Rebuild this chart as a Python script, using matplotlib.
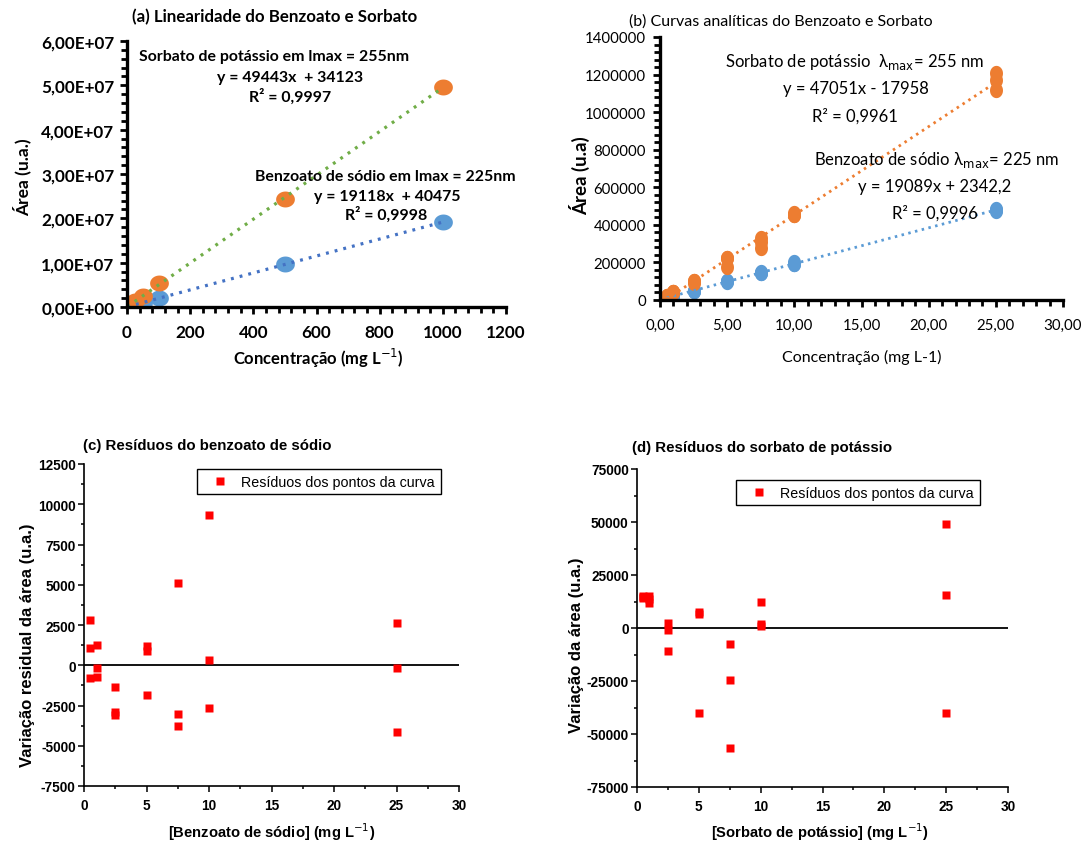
import numpy as np
import matplotlib
matplotlib.use("Agg")
import matplotlib.pyplot as plt
from matplotlib.path import Path
from matplotlib.ticker import MultipleLocator, FuncFormatter

# ---------------- data ----------------
# (a) linearity range (mg/L) and peak areas
conc_lin = [1, 10, 25, 50, 100, 500, 1000]
area_sorb_lin = [0.05e6, 0.5e6, 1.3e6, 2.5e6, 5.4e6, 2.43e7, 4.96e7]
area_benz_lin = [0.03e6, 0.2e6, 0.5e6, 1.0e6, 2.0e6, 0.97e7, 1.91e7]
fit_sorb_lin = (49443, 34123)
fit_benz_lin = (19118, 40475)

# (b) analytical curves, triplicate injections
conc_cal = [0.5, 0.5, 0.5, 1, 1, 1, 2.5, 2.5, 2.5, 5, 5, 5,
            7.5, 7.5, 7.5, 10, 10, 10, 25, 25, 25]
area_sorb_cal = [20500, 20000, 19500, 44000, 42500, 41000,
                 102000, 98500, 88500, 224500, 223500, 177500,
                 327500, 310500, 278500, 465000, 454500, 453500,
                 1207000, 1173500, 1118000]
area_benz_cal = [14700, 13000, 11100, 22700, 21300, 20700,
                 48700, 47200, 47000, 99000, 98700, 95900,
                 150600, 142500, 141700, 202600, 193600, 190600,
                 482200, 479400, 475400]
fit_sorb_cal = (47051, -17958)
fit_benz_cal = (19089, 2342.2)

# (c) residuals, sodium benzoate
res_benz = [2800, 1100, -800, 1250, -150, -700,
            -1350, -2900, -3100, 1200, 900, -1850,
            5100, -3000, -3800, 9350, 350, -2650,
            2600, -150, -4150]
# (d) residuals, potassium sorbate
res_sorb = [15000, 14500, 14000, 15000, 13500, 12000,
            2500, -1000, -11000, 7500, 6500, -40000,
            -7500, -24500, -56500, 12500, 2000, 1000,
            49000, 15500, -40000]

# ---------------- styling ----------------
W, H = 1090, 845
fig = plt.figure(figsize=(W / 100, H / 100), dpi=100)

FA = ["Lato", "DejaVu Sans"]
FN = ["Liberation Sans", "DejaVu Sans"]
ORANGE = "#ED7D31"
BLUE = "#5B9BD5"
GREEN = "#70AD47"
DBLUE = "#4472C4"
RED = "#FF0000"


def box(l, t, r, b):
    return [l / W, 1 - b / H, (r - l) / W, (b - t) / H]


def at(x, y):
    return x / W, 1 - y / H


def ellipse(sx, sy):
    t = np.linspace(0, 2 * np.pi, 64)
    return Path(np.column_stack([sx * np.cos(t), sy * np.sin(t)]), closed=True)


def fitline(ax, x, coef, **kw):
    xs = np.array([min(x), max(x)])
    ax.plot(xs, coef[0] * xs + coef[1], **kw)


def excel_axes(ax):
    for s in ("top", "right"):
        ax.spines[s].set_visible(False)
    for s in ("left", "bottom"):
        ax.spines[s].set_linewidth(2.4)
        ax.spines[s].set_color("black")
    ax.tick_params(which="major", direction="out", length=5, width=2, color="black")
    ax.tick_params(which="minor", direction="out", length=4, width=2, color="black")


def origin_axes(ax):
    for s in ("top", "right"):
        ax.spines[s].set_visible(False)
    for s in ("left", "bottom"):
        ax.spines[s].set_linewidth(1.2)
    ax.tick_params(which="major", direction="out", length=4, width=1.1, pad=2)
    ax.tick_params(which="minor", direction="out", length=2.5, width=1.1)


# ---------------- (a) ----------------
axa = fig.add_axes(box(127, 42, 506, 308))
excel_axes(axa)
mk_a = ellipse(1.0, 0.85)
axa.plot(conc_lin, area_benz_lin, ls="none", marker=mk_a, ms=13.5, color=BLUE, mec="none")
axa.plot(conc_lin, area_sorb_lin, ls="none", marker=mk_a, ms=13.5, color=ORANGE, mec="none")
fitline(axa, conc_lin, fit_benz_lin, color=DBLUE, lw=2.3, ls=(0, (0.9, 1.9)))
fitline(axa, conc_lin, fit_sorb_lin, color=GREEN, lw=2.3, ls=(0, (0.9, 1.9)))
axa.set_xlim(0, 1200)
axa.set_ylim(0, 6e7)
axa.xaxis.set_major_locator(MultipleLocator(200))
axa.xaxis.set_minor_locator(MultipleLocator(40))
axa.yaxis.set_major_locator(MultipleLocator(1e7))
axa.yaxis.set_minor_locator(MultipleLocator(2e6))
axa.yaxis.set_major_formatter(FuncFormatter(lambda v, p: f"{v:.2E}".replace(".", ",")))
axa.tick_params(axis="x", pad=7)
axa.tick_params(axis="y", pad=4)
plt.setp(axa.get_xticklabels() + axa.get_yticklabels(), family=FA, fontweight="bold",
         fontsize=12.3)

fig.text(*at(275, 17), "(a) Linearidade do Benzoato e Sorbato", ha="center", va="center",
         family=FA, fontweight="bold", fontsize=12.2)
fig.text(*at(22, 177), "Área (u.a.)", rotation=90, ha="center", va="center",
         family=FA, fontweight="bold", fontsize=12.5)
fig.text(*at(318, 358), "Concentração (mg L$^{-1}$)", ha="center", va="center",
         family=FA, fontweight="bold", fontsize=12)
for txt, (x, y) in [("Sorbato de potássio em lmax = 255nm", (274, 57)),
                    ("y = 49443x  + 34123", (290, 78)),
                    ("R² = 0,9997", (290, 97)),
                    ("Benzoato de sódio em lmax = 225nm", (385, 177)),
                    ("y = 19118x  + 40475", (387, 197)),
                    ("R² = 0,9998", (386, 215))]:
    fig.text(*at(x, y), txt, ha="center", va="center", family=FA,
             fontweight="bold", fontsize=11.4)

# ---------------- (b) ----------------
axb = fig.add_axes(box(660, 38, 1063, 301))
excel_axes(axb)
mk_b = ellipse(0.85, 1.0)
axb.plot(conc_cal, area_benz_cal, ls="none", marker=mk_b, ms=11, color=BLUE, mec="none")
axb.plot(conc_cal, area_sorb_cal, ls="none", marker=mk_b, ms=11, color=ORANGE, mec="none")
fitline(axb, conc_cal, fit_benz_cal, color=BLUE, lw=2.0, ls=(0, (0.9, 1.6)))
fitline(axb, conc_cal, fit_sorb_cal, color=ORANGE, lw=2.0, ls=(0, (0.9, 1.6)))
axb.set_xlim(0, 30)
axb.set_ylim(0, 1400000)
axb.xaxis.set_major_locator(MultipleLocator(5))
axb.xaxis.set_minor_locator(MultipleLocator(1))
axb.yaxis.set_major_locator(MultipleLocator(200000))
axb.yaxis.set_minor_locator(MultipleLocator(40000))
axb.xaxis.set_major_formatter(FuncFormatter(lambda v, p: f"{v:.2f}".replace(".", ",")))
axb.yaxis.set_major_formatter(FuncFormatter(lambda v, p: f"{v:.0f}"))
axb.tick_params(axis="x", pad=8)
axb.tick_params(axis="y", pad=5)
plt.setp(axb.get_xticklabels() + axb.get_yticklabels(), family=FA, fontsize=10.8)

fig.text(*at(781, 22), "(b) Curvas analíticas do Benzoato e Sorbato", ha="center",
         va="center", family=FA, fontsize=11.5)
fig.text(*at(580, 176), "Área (u.a)", rotation=90, ha="center", va="center",
         family=FA, fontweight="bold", fontsize=13.5)
fig.text(*at(862, 357), "Concentração (mg L-1)", ha="center", va="center",
         family=FA, fontsize=11.5)
for txt, (x, y) in [("Sorbato de potássio  λ$_{\\mathrm{max}}$= 255 nm", (855, 62)),
                    ("y = 47051x - 17958", (856, 89)),
                    ("R² = 0,9961", (855, 116)),
                    ("Benzoato de sódio λ$_{\\mathrm{max}}$= 225 nm", (937, 160)),
                    ("y = 19089x + 2342,2", (935, 187)),
                    ("R² = 0,9996", (935, 213))]:
    fig.text(*at(x, y), txt, ha="center", va="center", family=FA, fontsize=12)


# ---------------- (c) and (d) ----------------
def residual_panel(rect, res, ylim, ymaj, title, title_xy, ylabel, ylabel_xy,
                   xlabel, xlabel_xy, legend_xy):
    ax = fig.add_axes(rect)
    origin_axes(ax)
    ax.axhline(0, color="black", lw=1.3, zorder=1)
    ax.plot(conc_cal, res, ls="none", marker="s", ms=5.5, color=RED, mec="none",
            zorder=3, label="Resíduos dos pontos da curva")
    ax.set_xlim(0, 30)
    ax.set_ylim(*ylim)
    ax.xaxis.set_major_locator(MultipleLocator(5))
    ax.xaxis.set_minor_locator(MultipleLocator(2.5))
    ax.yaxis.set_major_locator(MultipleLocator(ymaj))
    ax.yaxis.set_minor_locator(MultipleLocator(ymaj / 2))
    ax.yaxis.set_major_formatter(FuncFormatter(lambda v, p: f"{v:.0f}"))
    ax.tick_params(axis="x", pad=5)
    plt.setp(ax.get_xticklabels() + ax.get_yticklabels(), family=FN,
             fontweight="bold", fontsize=9.8)
    leg = ax.legend(loc="upper left", bbox_to_anchor=at(*legend_xy),
                    bbox_transform=fig.transFigure, frameon=True, fancybox=False,
                    edgecolor="black", framealpha=1, handlelength=2.4,
                    handletextpad=0.3, borderpad=0.4, borderaxespad=0,
                    prop={"family": FN, "size": 10.3})
    leg.get_frame().set_linewidth(1.0)
    fig.text(*at(*title_xy), title, ha="left", va="center", family=FN,
             fontweight="bold", fontsize=10.8)
    fig.text(*at(*ylabel_xy), ylabel, rotation=90, ha="center", va="center",
             family=FN, fontweight="bold", fontsize=12)
    fig.text(*at(*xlabel_xy), xlabel, ha="center", va="center", family=FN,
             fontweight="bold", fontsize=10.6)
    return ax


residual_panel(box(84, 465, 459, 787), res_benz, (-7500, 12500), 2500,
               "(c) Resíduos do benzoato de sódio", (83, 446),
               "Variação residual da área (u.a.)", (28, 645),
               "[Benzoato de sódio] (mg L$^{-1}$)", (272, 832), (197, 470))
residual_panel(box(637, 470, 1008, 788), res_sorb, (-75000, 75000), 25000,
               "(d) Resíduos do sorbato de potássio", (632, 448),
               "Variação da área (u.a.)", (577, 645),
               "[Sorbato de potássio] (mg L$^{-1}$)", (820, 832), (736, 481))

fig.savefig("out.png", dpi=100)
